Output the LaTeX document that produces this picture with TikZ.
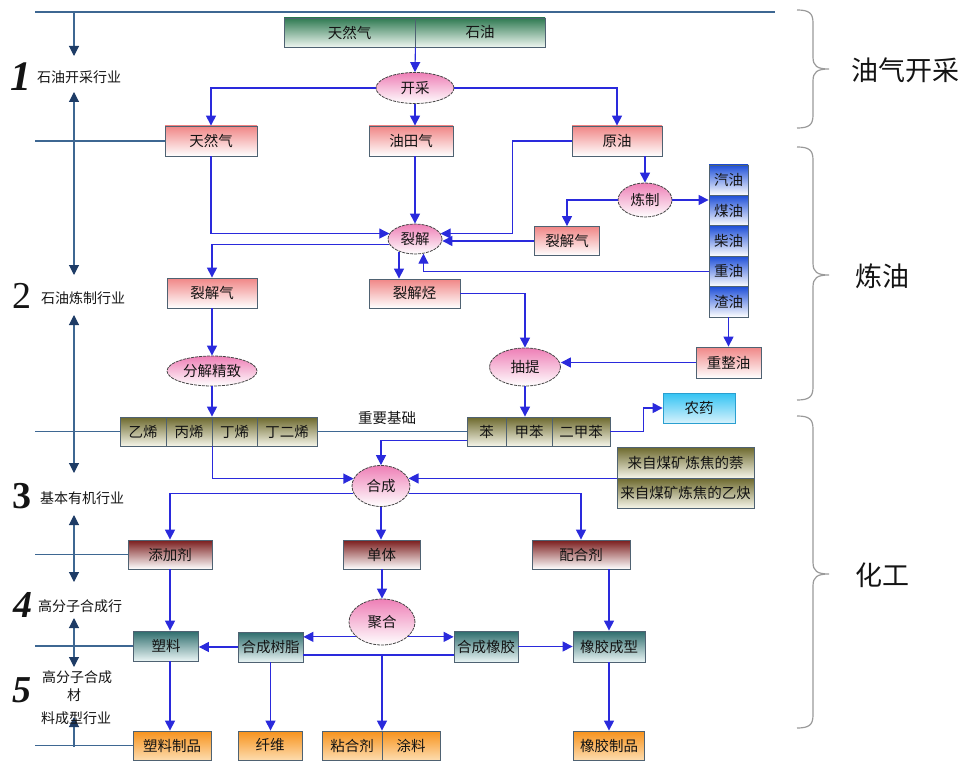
\documentclass[tikz,border=0pt]{standalone}
\usepackage{fontspec}
\newfontfamily\cjk{Noto Sans CJK SC}
\newfontfamily\numfont{Liberation Serif}
\usetikzlibrary{arrows.meta,shapes.geometric,calc}

\definecolor{flowc}{HTML}{2A2ADC}
\definecolor{axisc}{HTML}{3E6792}
\definecolor{axtip}{HTML}{1E3C66}
\definecolor{boxline}{HTML}{4F6272}
\definecolor{txt}{HTML}{141414}
\definecolor{brcc}{HTML}{9A9A9A}
\definecolor{greentop}{HTML}{2F7A52}
\definecolor{greenbot}{HTML}{EEF6F0}
\definecolor{redtop}{HTML}{F08686}
\definecolor{bluetop}{HTML}{1E4FD8}
\definecolor{olivetop}{HTML}{6C682C}
\definecolor{olivebot}{HTML}{F5F5E8}
\definecolor{maroontop}{HTML}{7A1C1C}
\definecolor{tealtop}{HTML}{2D6C6C}
\definecolor{tealbot}{HTML}{EAF5F5}
\definecolor{orangetop}{HTML}{F7921C}
\definecolor{orangebot}{HTML}{FDDCAE}
\definecolor{cyantop}{HTML}{33C3F3}
\definecolor{cyanbot}{HTML}{D6F2FC}
\definecolor{cyanline}{HTML}{2A9FD0}
\definecolor{pinktop}{HTML}{EE7FB6}
\definecolor{ellline}{HTML}{444444}

\begin{document}
\begin{tikzpicture}[x=1pt,y=-1pt,
  every node/.style={font=\cjk\fontsize{14.5}{16}\selectfont, text=txt},
  cell/.style={rectangle, draw=boxline, line width=0.8pt, inner sep=0pt, minimum height=30pt},
  greenbox/.style={cell, top color=greentop, bottom color=greenbot},
  redbox/.style={cell, top color=redtop, bottom color=white},
  bluebox/.style={cell, top color=bluetop, bottom color=white, minimum width=39pt, minimum height=30.4pt},
  olivebox/.style={cell, top color=olivetop, bottom color=olivebot, minimum height=29pt},
  maroonbox/.style={cell, top color=maroontop, bottom color=white, minimum height=29pt},
  tealbox/.style={cell, top color=tealtop, bottom color=tealbot},
  orangebox/.style={cell, top color=orangetop, bottom color=orangebot, minimum height=29pt},
  cyanbox/.style={cell, draw=cyanline, top color=cyantop, bottom color=cyanbot},
  proc/.style={ellipse, draw=ellline, line width=0.8pt, dash pattern=on 3pt off 1pt,
    top color=pinktop, bottom color=white, inner sep=0pt},
  flow/.style={draw=flowc, line width=1.1pt, -{Triangle[length=10pt,width=10pt]}},
  flowline/.style={draw=flowc, line width=1.1pt},
  axisline/.style={draw=axisc, line width=1.1pt},
  axdown/.style={axisline, -{Triangle[length=10pt,width=10pt,color=axtip]}},
  axboth/.style={axisline, {Triangle[length=10pt,width=10pt,color=axtip]}-{Triangle[length=10pt,width=10pt,color=axtip]}},
  brc/.style={draw=brcc, line width=1.2pt},
  sidelabel/.style={font=\cjk\fontsize{27}{30}\selectfont},
  stagelabel/.style={font=\cjk\fontsize{14}{16}\selectfont, inner sep=1pt},
  bignum/.style={font=\numfont\fontsize{38}{38}\selectfont, inner sep=0pt}
]
\useasboundingbox (0,0) rectangle (966,762);

% ---------- oil and gas extraction ----------
\node[greenbox, minimum width=131pt, minimum height=29pt] (gas0) at (349.5,32.5) {天然气};
\node[greenbox, minimum width=130pt, minimum height=29pt] (oil0) at (480,32.5) {石油};
\node[proc, minimum width=78pt, minimum height=31pt] (kc) at (415,88) {开采};
\node[redbox, minimum width=92pt] (trq) at (211,141) {天然气};
\node[redbox, minimum width=84pt] (ytq) at (411,141) {油田气};
\node[redbox, minimum width=90pt] (yy) at (617,141) {原油};

% ---------- refining ----------
\node[proc, minimum width=54pt, minimum height=34pt] (lz) at (645,200) {炼制};
\node[redbox, minimum width=65pt, minimum height=29pt] (ljq2) at (567,241) {裂解气};
\node[bluebox] (qy)  at (728.5,180.2) {汽油};
\node[bluebox] (my)  at (728.5,210.6) {煤油};
\node[bluebox] (cy)  at (728.5,241.0) {柴油};
\node[bluebox] (zy)  at (728.5,271.4) {重油};
\node[bluebox] (zhy) at (728.5,301.8) {渣油};
\node[proc, minimum width=54pt, minimum height=30pt] (lj) at (415,239) {裂解};
\node[redbox, minimum width=90pt] (ljq) at (212,293) {裂解气};
\node[redbox, minimum width=91pt, minimum height=29pt] (ljt) at (414.5,293.5) {裂解烃};
\node[proc, minimum width=90pt, minimum height=30pt] (fj) at (212,371) {分解精致};
\node[proc, minimum width=71pt, minimum height=38pt] (ct) at (525,367) {抽提};
\node[redbox, minimum width=65pt, minimum height=31pt] (zzy) at (728.5,362.5) {重整油};

% ---------- basic feedstocks ----------
\node[olivebox, minimum width=46pt] (yx)  at (143,431.5)   {乙烯};
\node[olivebox, minimum width=46pt] (bx)  at (189,431.5)   {丙烯};
\node[olivebox, minimum width=45pt] (dx)  at (234.5,431.5) {丁烯};
\node[olivebox, minimum width=60pt] (dex) at (287,431.5)   {丁二烯};
\node[olivebox, minimum width=39pt] (ben) at (486.5,431.5) {苯};
\node[olivebox, minimum width=46pt] (jb)  at (529,431.5)   {甲苯};
\node[olivebox, minimum width=58pt] (ejb) at (581,431.5)   {二甲苯};
\node (basis) at (387,418) {重要基础};
\node[cyanbox, minimum width=72pt] (ny) at (699,408) {农药};
\node[olivebox, minimum width=137pt, minimum height=31pt] (nai) at (685.5,462.5) {来自煤矿炼焦的萘};
\node[olivebox, minimum width=137pt, minimum height=30pt] (yq) at (685.5,493) {来自煤矿炼焦的乙炔};

% ---------- chemical industry ----------
\node[proc, minimum width=58pt, minimum height=41pt] (hc) at (381,486) {合成};
\node[maroonbox, minimum width=84pt] (tjj) at (170,554.5)   {添加剂};
\node[maroonbox, minimum width=77pt] (dt)  at (381.5,554.5) {单体};
\node[maroonbox, minimum width=98pt] (phj) at (581,554.5)   {配合剂};
\node[proc, minimum width=66pt, minimum height=46pt] (jh) at (382,622) {聚合};
\node[tealbox, minimum width=65pt] (sl)   at (166,646)   {塑料};
\node[tealbox, minimum width=65pt] (hcsz) at (270.5,647) {合成树脂};
\node[tealbox, minimum width=64pt, minimum height=31pt] (hcxj) at (486,646.5) {合成橡胶};
\node[tealbox, minimum width=72pt, minimum height=31pt] (xjcx) at (609,646.5) {橡胶成型};
\node[orangebox, minimum width=78pt] (slzp) at (172,745.5) {塑料制品};
\node[orangebox, minimum width=64pt] (xw)   at (270,745.5) {纤维};
\node[orangebox, minimum width=60pt] (nhj)  at (352,745.5) {粘合剂};
\node[orangebox, minimum width=58pt] (tl)   at (411,745.5) {涂料};
\node[orangebox, minimum width=71pt] (xjzp) at (609,745.5) {橡胶制品};

% ---------- material flow ----------
\draw[flow] (gas0.south east) -- (kc.north);
\draw[flow] (kc.west) -| (trq.north);
\draw[flow] (kc.south) -- (kc.south |- ytq.north);
\draw[flow] (kc.east) -| (yy.north);
\draw[flow] (lz.north |- yy.south) -- (lz.north);
\draw[flow] (lz.west) -| (ljq2.north);
\draw[flow] (lz.east) -- (lz.east -| my.west);
\draw[flow] (trq.south) |- (lj.168);
\draw[flow] (lj.north |- ytq.south) -- (lj.north);
\draw[flow] (yy.west) -- ++(-59,0) |- (lj.12);
\draw[flow] (ljq2.west) -- (ljq2.west -| lj.east);
\draw[flow] (lj.192) -| (ljq.north);
\draw[flow] (lj.218) -- (lj.218 |- ljt.north);
\draw[flow] (zy.west) -| (lj.300);
\draw[flow] (ljq.south) -- (fj.north);
\draw[flow] (fj.south) -- (fj.south |- bx.north);
\draw[flow] (ljt.east) -| (ct.north);
\draw[flow] (ct.south) -- (ct.south |- jb.north);
\draw[flow] (zzy.west) -- (zzy.west -| ct.east);
\draw[flow] (zhy.south) -- (zhy.south |- zzy.north);
\draw[flow] (ejb.east) -- ++(33,0) |- (ny.west);

\coordinate (benout) at ($(ben.south west)+(0,-6)$);
\draw[flow] (benout) -| (hc.north);
\draw[flow] (bx.south east) |- (hc.165);
\draw[flow] (nai.south west) -- (nai.south west -| hc.15);
\draw[flow] (hc.195) -| (tjj.north);
\draw[flow] (hc.345) -| (phj.north);
\draw[flow] (hc.south) -- (hc.south |- dt.north);
\draw[flow] (jh.north |- dt.south) -- (jh.north);
\draw[flow] (jh.210) -- (jh.210 -| hcsz.east);
\draw[flow] (jh.330) -- (jh.330 -| hcxj.west);
\draw[flow] (hcsz.west) -- (hcsz.west -| sl.east);
\coordinate (rl) at ($(hcsz.east)+(0,8)$);
\draw[flowline] (rl) -- (rl -| hcxj.west);
\coordinate (split) at (rl -| jh.south);
\draw[flow] (split) -- (split |- nhj.north);
\draw[flow] (tjj.south) -- (tjj.south |- sl.north);
\draw[flow] (tjj.south |- sl.south) -- (tjj.south |- slzp.north);
\draw[flow] (hcsz.south) -- (hcsz.south |- xw.north);
\draw[flow] (hcxj.east) -- (hcxj.east -| xjcx.west);
\draw[flow] (xjcx.north |- phj.south) -- (xjcx.north);
\draw[flow] (xjcx.south) -- (xjcx.south |- xjzp.north);

% ---------- industry stages on the left ----------
\coordinate (tl0) at (35,12);
\coordinate (tl1) at (775,12);
\coordinate (lft) at (35,0);
\draw[axisline] (tl0) -- (tl1);
\draw[axisline] (trq.west) -- (trq.west -| lft);
\draw[axisline] (yx.west) -- (yx.west -| lft);
\draw[axisline] (dex.east) -- (ben.west);
\draw[axisline] (tjj.west) -- (tjj.west -| lft);
\draw[axisline] (sl.west) -- (sl.west -| lft);
\draw[axisline] (slzp.west) -- (slzp.west -| lft);

\coordinate (v0) at (74,12);   \coordinate (v1) at (74,56);
\coordinate (v2) at (74,92);   \coordinate (v3) at (74,275);
\coordinate (v4) at (74,315);  \coordinate (v5) at (74,473);
\coordinate (v6) at (74,515);  \coordinate (v7) at (74,582);
\coordinate (v8) at (74,618);  \coordinate (v9) at (74,667);
\coordinate (v10) at (74,747); \coordinate (v11) at (74,717);
\draw[axdown] (v0) -- (v1);
\draw[axboth] (v2) -- (v3);
\draw[axboth] (v4) -- (v5);
\draw[axboth] (v6) -- (v7);
\draw[axboth] (v8) -- (v9);
\draw[axdown] (v10) -- (v11);

\node[bignum, font=\numfont\bfseries\itshape\fontsize{42}{42}\selectfont] (n1) at (21,77) {1};
\node[stagelabel] (s1) at (79,77) {石油开采行业};
\node[bignum, font=\numfont\fontsize{38}{38}\selectfont] (n2) at (22,296) {2};
\node[stagelabel] (s2) at (83,298) {石油炼制行业};
\node[bignum, font=\numfont\bfseries\fontsize{38}{38}\selectfont] (n3) at (22,496) {3};
\node[stagelabel] (s3) at (82,498) {基本有机行业};
\node[bignum, font=\numfont\bfseries\itshape\fontsize{38}{38}\selectfont] (n4) at (23,605) {4};
\node[stagelabel] (s4) at (80,606) {高分子合成行};
\node[bignum, font=\numfont\bfseries\itshape\fontsize{38}{38}\selectfont] (n5) at (22,690) {5};
\node[stagelabel] (s5a) at (77,677) {高分子合成};
\node[stagelabel] (s5b) at (74,695) {材};
\node[stagelabel] (s5c) at (76,718) {料成型行业};

% ---------- section braces on the right ----------
\foreach \T/\M/\B in {10/69/128, 147/275/400, 416/574/728} {
  \draw[brc] (797,\T) .. controls (809,\T) and (813,\T+3) .. (813,\T+13)
    -- (813,\M-12) .. controls (813,\M-3) and (817,\M) .. (829,\M)
    .. controls (817,\M) and (813,\M+3) .. (813,\M+12)
    -- (813,\B-13) .. controls (813,\B-3) and (809,\B) .. (797,\B);
}
\node[sidelabel] (sec1) at (905,70) {油气开采};
\node[sidelabel] (sec2) at (882,276) {炼油};
\node[sidelabel] (sec3) at (882,575) {化工};
\end{tikzpicture}
\end{document}
